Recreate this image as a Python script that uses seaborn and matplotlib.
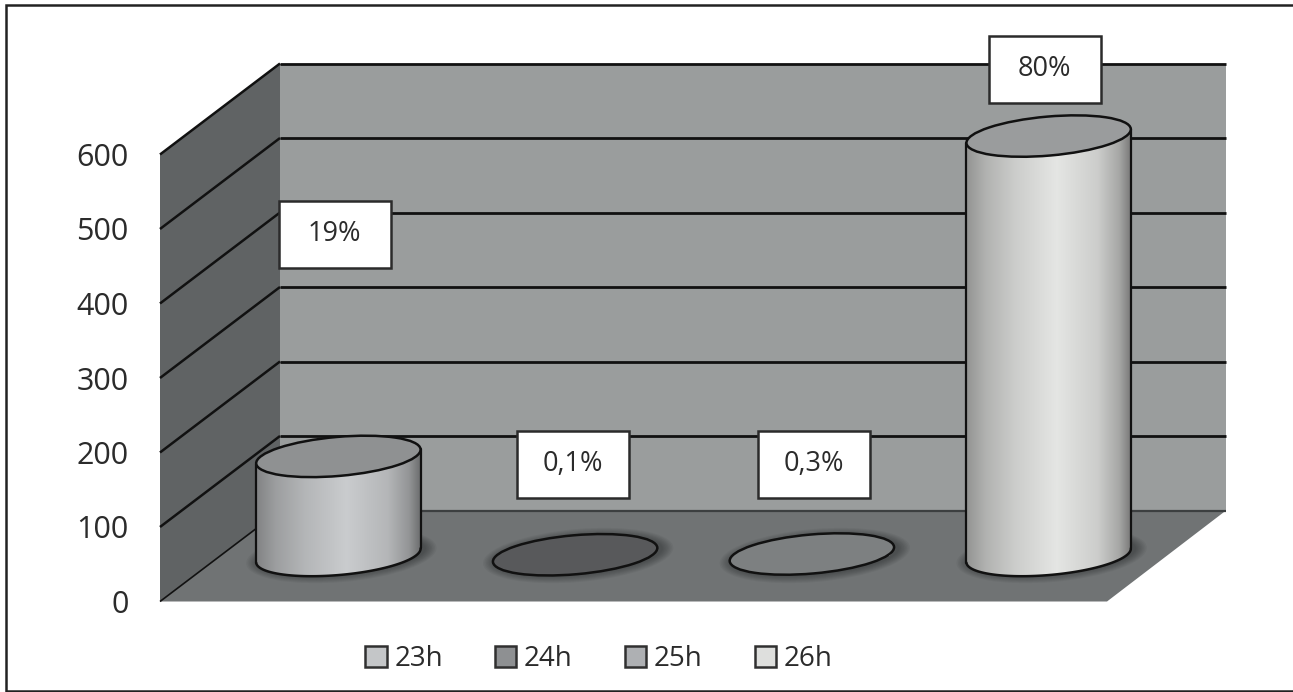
import numpy as np
import pandas as pd
import matplotlib
matplotlib.use('Agg')
import matplotlib.pyplot as plt
import seaborn as sns
from matplotlib.colors import LinearSegmentedColormap, to_rgb
from matplotlib.patches import Ellipse, PathPatch, Polygon, Rectangle
from matplotlib.path import Path

categorias = ['23h', '24h', '25h', '26h']
valores = [133, 1, 2, 563]
etiquetas = ['19%', '0,1%', '0,3%', '80%']
ticks = [0, 100, 200, 300, 400, 500, 600]
colores = ['#c4c6c8', '#8e9092', '#aeb0b3', '#dedfdd']
tapas = ['#8f9192', '#58595b', '#7d8081', '#9a9c9d']

# layout in image pixels
W, H = 1293, 692
caja_centro = [(334.5, 234), (572.5, 464), (814, 464), (1044.5, 69)]
caja_w, caja_h = 112, 67
dx, dy = 120, 91     # depth of the box
a, b, tilt = 82.5, 19.5, 5

sns.set_theme(style='white')
plt.rcParams['font.family'] = ['Open Sans', 'DejaVu Sans']
texto = '#2b2b2b'

fig = plt.figure(figsize=(W / 100, H / 100), dpi=100)


def px_axes(zorder):
    eje = fig.add_axes([0, 0, 1, 1], zorder=zorder)
    eje.set_xlim(0, W)
    eje.set_ylim(H, 0)
    eje.axis('off')
    eje.patch.set_alpha(0)
    return eje


fondo = px_axes(0)
frente = px_axes(4)

# front plane, only for the value ticks
eje_ticks = fig.add_axes([160 / W, (H - 601.5) / H, 947 / W, 447 / H], zorder=1)
eje_ticks.patch.set_alpha(0)
eje_ticks.set_ylim(0, 600)
eje_ticks.set_yticks(ticks)
eje_ticks.set_xticks([])
eje_ticks.tick_params(axis='y', length=0, pad=22.5, labelsize=22, labelcolor=texto)
sns.despine(ax=eje_ticks, left=True, bottom=True)

# frame has no right side in the original
fondo.plot([W, 6, 6, W], [5, 5, 690.5, 690.5], color='#222222', lw=1.8,
           solid_joinstyle='miter')


def y_front(v):
    return H - eje_ticks.transData.transform((0, v))[1]


y0, y6 = y_front(0), y_front(600)
fondo.add_patch(Polygon([(160, y0), (160 + dx, y0 - dy), (1226, y0 - dy), (1107, y0)],
                        fc='#707374', ec='none'))
fondo.add_patch(Polygon([(160, y0), (160, y6), (160 + dx, y6 - dy), (160 + dx, y0 - dy)],
                        fc='#606364', ec='none'))
fondo.add_patch(Rectangle((160 + dx, y6 - dy), 1226 - 160 - dx, y0 - y6,
                          fc='#9a9d9d', ec='none'))
for t in ticks:
    y = y_front(t)
    fondo.plot([160, 160 + dx], [y, y - dy], color='#111111', lw=1.8 if t else 1.2,
               solid_capstyle='butt')
    fondo.plot([160 + dx, 1226], [y - dy, y - dy], color='#111111' if t else '#3c3f40',
               lw=2 if t else 1.6, solid_capstyle='butt')

# bars sit half way into the depth of the floor
ax = fig.add_axes([220 / W, (H - 555.5) / H, 947 / W, 447 / H], zorder=2)
df = pd.DataFrame({'hora': categorias, 'valor': valores})
sns.barplot(data=df, x='hora', y='valor', hue='hora', palette=colores, saturation=1,
            width=0.7, ax=ax, hue_order=categorias, order=categorias, legend=True)
ax.set_xlim(-0.5, 3.5)
ax.set_ylim(0, 600)
sns.move_legend(ax, 'center', bbox_to_anchor=(599 / W, 1 - 659 / H),
                bbox_transform=fig.transFigure, ncol=4, frameon=False, title=None,
                fontsize=20, handlelength=0.76, handleheight=0.76, handletextpad=0.28,
                columnspacing=1.88, labelcolor=texto)
for h in ax.get_legend().get_patches():
    h.set_edgecolor('#303030')
    h.set_linewidth(1.8)
ax.axis('off')
ax.get_legend().set_visible(True)

ang = np.radians(tilt)


def elipse_pts(cx, cy, t0, t1, n=80):
    t = np.linspace(t0, t1, n)
    x = a * np.cos(t)
    y = b * np.sin(t)
    return np.column_stack([cx + x * np.cos(ang) + y * np.sin(ang),
                            cy - x * np.sin(ang) + y * np.cos(ang)])


for barra, color, tapa in zip(ax.patches, colores, tapas):
    xc = barra.get_x() + barra.get_width() / 2
    cx, base = ax.transData.transform((xc, 0))
    _, tope = ax.transData.transform((xc, barra.get_height()))
    base, tope = H - base, H - tope

    # floor shadow
    for k in range(8):
        fondo.add_patch(Ellipse((cx + 3, base), 2 * a + 26 - 3 * k, 2 * b + 14 - 2 * k, angle=-tilt,
                                fc='#1c1e1f', ec='none', alpha=0.06, zorder=3))

    # cylinder body: right end of top, down, lower half of the base, up the left
    abajo = elipse_pts(cx, base, 0, np.pi)
    arriba = elipse_pts(cx, tope, np.pi, 2 * np.pi)
    cuerpo = np.vstack([abajo, arriba, abajo[:1]])
    path = Path(cuerpo, closed=True)
    barra.set_clip_path(path, frente.transData)

    c = np.array(to_rgb(color))
    paradas = [(0, 0.66), (0.12, 0.8), (0.3, 0.92), (0.55, 1.03), (0.8, 0.92), (0.93, 0.75), (1, 0.55)]
    cmap = LinearSegmentedColormap.from_list(
        'cil', [(p, np.minimum(c * f, 1)) for p, f in paradas], N=256)
    if barra.get_height() > 10:
        grad = frente.imshow(np.linspace(0, 1, 256)[None, :], cmap=cmap, aspect='auto',
                             extent=(cx - a, cx + a, base + b + 9, tope - b - 9), zorder=1,
                             interpolation='bilinear')
        grad.set_clip_path(PathPatch(path, transform=frente.transData))
        frente.plot(abajo[:, 0], abajo[:, 1], color='#111111', lw=1.8, zorder=2)
        frente.plot([abajo[0, 0], arriba[-1, 0]], [abajo[0, 1], arriba[-1, 1]],
                    color='#111111', lw=1.6, zorder=2)
        frente.plot([abajo[-1, 0], arriba[0, 0]], [abajo[-1, 1], arriba[0, 1]],
                    color='#111111', lw=1.6, zorder=2)
    frente.add_patch(Ellipse((cx, tope), 2 * a, 2 * b, angle=-tilt, fc=tapa,
                             ec='#111111', lw=1.8, zorder=3))

for (bx, by), etiqueta in zip(caja_centro, etiquetas):
    frente.add_patch(Rectangle((bx - caja_w / 2, by - caja_h / 2), caja_w, caja_h,
                               fc='white', ec='#2b2b2b', lw=1.8, zorder=5))
    frente.text(bx, by, etiqueta, ha='center', va='center', fontsize=19.5, color=texto, zorder=6)

frente.set_xlim(0, W)
frente.set_ylim(H, 0)
fig.savefig('out.png', dpi=100)
